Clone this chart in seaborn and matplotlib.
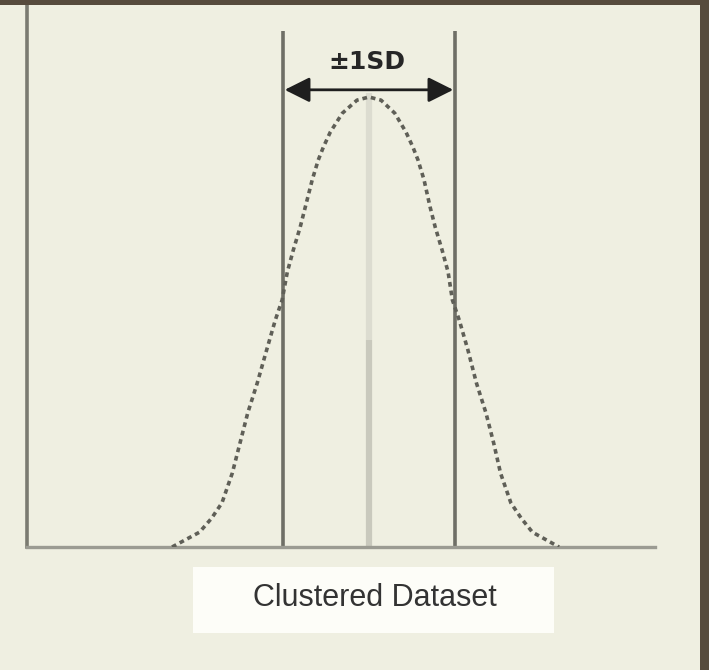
import seaborn as sns
import matplotlib.pyplot as plt
from matplotlib.patches import Rectangle

# Bell curve (x in SD units from the mean, y relative height)
curve_x = [-2.29, -1.97, -1.83, -1.71, -1.59, -1.50, -1.41, -1.30, -1.19, -1.09, -1.01,
           -0.95, -0.88, -0.80, -0.74, -0.66, -0.59, -0.53, -0.45, -0.31, -0.14, 0.00,
           0.14, 0.30, 0.43, 0.51, 0.57, 0.64, 0.71, 0.77, 0.85, 0.92, 0.97,
           1.05, 1.15, 1.25, 1.36, 1.45, 1.53, 1.65, 1.77, 1.90, 2.21]
curve_y = [0.000, 0.033, 0.064, 0.098, 0.164, 0.231, 0.298, 0.364, 0.438, 0.504, 0.549,
           0.611, 0.660, 0.711, 0.756, 0.816, 0.860, 0.889, 0.922, 0.964, 0.993, 1.000,
           0.993, 0.964, 0.922, 0.889, 0.860, 0.816, 0.756, 0.711, 0.660, 0.611, 0.549,
           0.504, 0.438, 0.364, 0.298, 0.231, 0.164, 0.098, 0.064, 0.033, 0.000]

mean = 0.0
sd_lines = [-1.0, 1.0]
sd_label = '±1SD'
titulo = 'Clustered Dataset'

sns.set_theme(style='white')
bg = '#efefe1'
fig = plt.figure(figsize=(7.09, 6.70), dpi=100, facecolor=bg)
ax = fig.add_axes([27 / 709, 123 / 670, 628 / 709, 547 / 670])
ax.set_facecolor(bg)
ax.set_xlim(-3.977, 3.326)
ax.set_ylim(0, 1.2156)

# eixos
for s in ['top', 'right']:
    ax.spines[s].set_visible(False)
ax.spines['left'].set_color('#7b7b71')
ax.spines['left'].set_linewidth(2.6)
ax.spines['bottom'].set_color('#9b9b92')
ax.spines['bottom'].set_linewidth(2.4)
ax.set_xticks([])
ax.set_yticks([])

# linha central (média)
ax.vlines(mean, 0, 0.46, color='#c9c9bd', lw=4.5, zorder=1)
ax.vlines(mean, 0.46, 1.01, color='#dcdcd0', lw=4.5, zorder=1)

# curva
sns.lineplot(x=curve_x, y=curve_y, ax=ax, color='#5f5f57', lw=2.6,
             linestyle=(0, (1.3, 1.1)), sort=False, estimator=None, zorder=3)

# linhas de ±1 desvio padrão
ax.vlines(sd_lines, 0, 1.147, color='#6f6f66', lw=2.6, zorder=2)

# seta
ax.annotate('', xy=(sd_lines[1] - 0.02, 1.016), xytext=(sd_lines[0] + 0.02, 1.016),
            arrowprops=dict(arrowstyle='<|-|>,head_length=0.9,head_width=0.45',
                            mutation_scale=17, lw=2.0, color='#1e1e1e',
                            shrinkA=0, shrinkB=0), zorder=4)
ax.text(mean - 0.02, 1.078, sd_label, ha='center', va='center', fontsize=18,
        fontweight='bold', color='#262626', family='DejaVu Sans')

# caixa do rótulo
fig.patches.append(Rectangle((193 / 709, 37 / 670), 361 / 709, 66 / 670,
                             transform=fig.transFigure, facecolor='#fdfdf8',
                             edgecolor='none', zorder=0))
fig.text(375 / 709, 1 - 598 / 670, titulo, ha='center', va='center',
         fontsize=22, color='#333333', family='Liberation Sans')

# bordas escuras
fig.patches.append(Rectangle((0, 1 - 5 / 670), 1, 5 / 670, transform=fig.transFigure,
                             facecolor='#574b3d', edgecolor='none', zorder=5))
fig.patches.append(Rectangle((700 / 709, 0), 9 / 709, 1, transform=fig.transFigure,
                             facecolor='#574b3d', edgecolor='none', zorder=5))

fig.savefig('out.png', dpi=100, facecolor=bg)
